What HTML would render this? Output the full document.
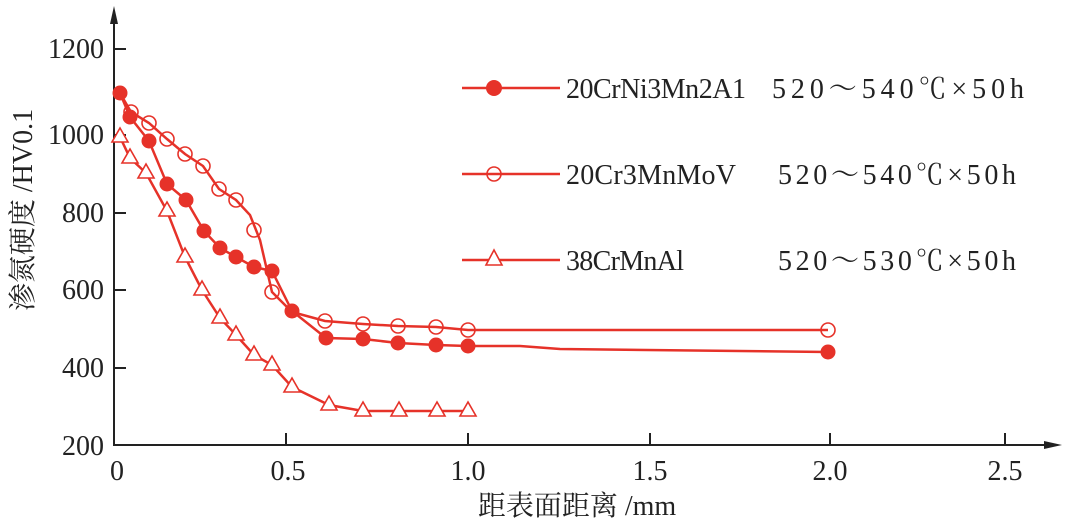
<!DOCTYPE html><html><head><meta charset="utf-8"><style>body{margin:0;background:#fff}svg{display:block}text{font-family:"Liberation Serif","Noto Serif CJK SC",serif;fill:#222}</style></head><body>
<svg width="1080" height="523" viewBox="0 0 1080 523">
<g stroke="#222" stroke-width="2" fill="none">
<line x1="114" y1="446" x2="114" y2="12"/><line x1="114" y1="445" x2="1055" y2="445"/>
<line x1="114" y1="49" x2="126" y2="49"/><line x1="114" y1="135" x2="126" y2="135"/><line x1="114" y1="213" x2="126" y2="213"/><line x1="114" y1="290" x2="126" y2="290"/><line x1="114" y1="368" x2="126" y2="368"/>
<line x1="286" y1="445" x2="286" y2="433"/><line x1="468" y1="445" x2="468" y2="433"/><line x1="650" y1="445" x2="650" y2="433"/><line x1="830" y1="445" x2="830" y2="433"/><line x1="1005" y1="445" x2="1005" y2="433"/>
</g>
<polygon points="114,6 110,24 118,24" fill="#222"/><polygon points="1062,445 1044,441 1044,449" fill="#222"/>
<g font-size="28" text-anchor="end"><text x="104" y="58">1200</text><text x="104" y="144">1000</text><text x="104" y="222">800</text><text x="104" y="299">600</text><text x="104" y="377">400</text><text x="104" y="455">200</text></g>
<g font-size="28" text-anchor="middle"><text x="117" y="480">0</text><text x="288" y="480">0.5</text><text x="468" y="480">1.0</text><text x="650" y="480">1.5</text><text x="830" y="480">2.0</text><text x="1005" y="480">2.5</text></g>
<text x="577" y="515" font-size="28" text-anchor="middle">距表面距离 /mm</text>
<text transform="translate(32,210) rotate(-90)" font-size="28" text-anchor="middle">渗氮硬度 /HV0.1</text>
<g stroke="#e63229" stroke-width="2.5" fill="none">
<polyline points="120,93 130,117 149,141 167,184 186,200 204,231 220,248 236,257 254,267 272,271 292,311 326,338 363,339 398,343 436,345 468,346 520,346 560,349 828,352"/>
<polyline points="120,93 131,112 149,123 167,139 185,154 203,166 219,189 236,200 250,215 260,240 272,292 292,312 325,321 363,324 398,326 436,327 468,330 828,330"/>
<polyline points="120,137 130,158 146,173 167,211 185,257 202,290 220,318 236,335 254,355 272,365 292,387 329,405 363,411 468,411"/>
<line x1="462" y1="88" x2="560" y2="88"/><line x1="462" y1="174" x2="560" y2="174"/><line x1="462" y1="260" x2="560" y2="260"/>
</g>
<g fill="#e63229"><circle cx="120" cy="93" r="7.5"/><circle cx="130" cy="117" r="7.5"/><circle cx="149" cy="141" r="7.5"/><circle cx="167" cy="184" r="7.5"/><circle cx="186" cy="200" r="7.5"/><circle cx="204" cy="231" r="7.5"/><circle cx="220" cy="248" r="7.5"/><circle cx="236" cy="257" r="7.5"/><circle cx="254" cy="267" r="7.5"/><circle cx="272" cy="271" r="7.5"/><circle cx="292" cy="311" r="7.5"/><circle cx="326" cy="338" r="7.5"/><circle cx="363" cy="339" r="7.5"/><circle cx="398" cy="343" r="7.5"/><circle cx="436" cy="345" r="7.5"/><circle cx="468" cy="346" r="7.5"/><circle cx="828" cy="352" r="7.5"/><circle cx="494" cy="88" r="8"/></g>
<g fill="none" stroke="#e63229" stroke-width="1.6"><circle cx="131" cy="112" r="7"/><circle cx="149" cy="123" r="7"/><circle cx="167" cy="139" r="7"/><circle cx="185" cy="154" r="7"/><circle cx="203" cy="166" r="7"/><circle cx="219" cy="189" r="7"/><circle cx="236" cy="200" r="7"/><circle cx="254" cy="230" r="7"/><circle cx="272" cy="292" r="7"/><circle cx="325" cy="321" r="7"/><circle cx="363" cy="324" r="7"/><circle cx="398" cy="326" r="7"/><circle cx="436" cy="327" r="7"/><circle cx="468" cy="330" r="7"/><circle cx="828" cy="330" r="7"/><circle cx="494" cy="174" r="7"/>
<g fill="#fff">
<polygon points="120,128 112,142 128,142"/><polygon points="130,149 122,163 138,163"/><polygon points="146,164 138,178 154,178"/><polygon points="167,202 159,216 175,216"/><polygon points="185,248 177,262 193,262"/><polygon points="202,281 194,295 210,295"/><polygon points="220,309 212,323 228,323"/><polygon points="236,326 228,340 244,340"/><polygon points="254,346 246,360 262,360"/><polygon points="272,356 264,370 280,370"/><polygon points="292,378 284,392 300,392"/><polygon points="329,396 321,410 337,410"/><polygon points="363,402 355,416 371,416"/><polygon points="399,402 391,416 407,416"/><polygon points="437,402 429,416 445,416"/><polygon points="468,402 460,416 476,416"/><polygon points="494,250 486,265 502,265"/></g></g>
<g font-size="28"><text x="566" y="98" textLength="180">20CrNi3Mn2A1</text><text x="772" y="98" textLength="252">520～540℃×50h</text>
<text x="566" y="184" textLength="170">20Cr3MnMoV</text><text x="778" y="184" textLength="238">520～540℃×50h</text>
<text x="566" y="270" textLength="118">38CrMnAl</text><text x="778" y="270" textLength="238">520～530℃×50h</text></g>
</svg></body></html>
